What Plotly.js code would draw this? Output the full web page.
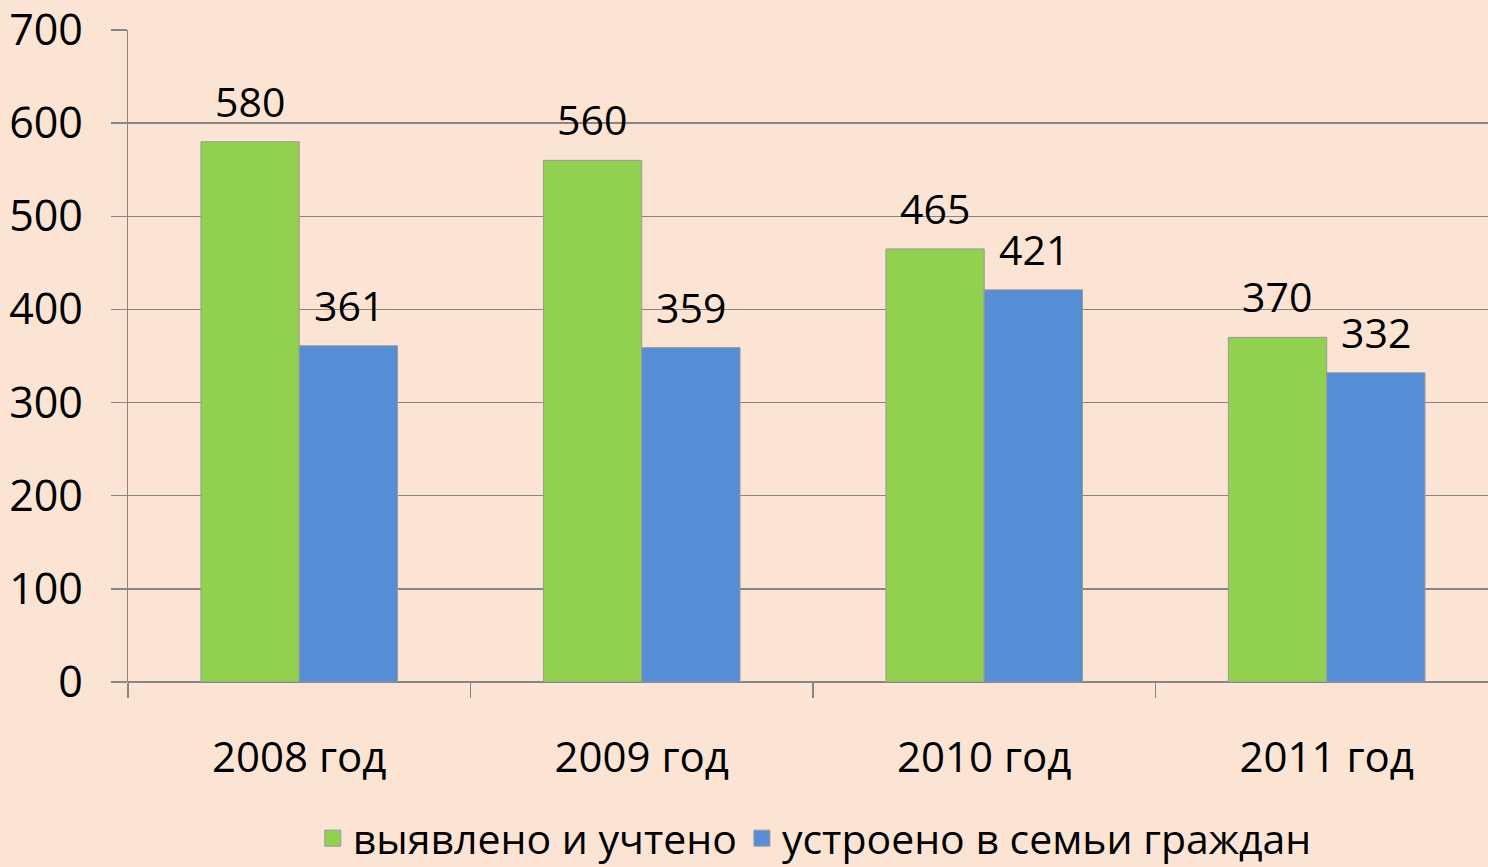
<!DOCTYPE html>
<html>
<head>
<meta charset="utf-8">
<script src="https://cdn.plot.ly/plotly-3.0.1.min.js"></script>
<style>html,body{margin:0;padding:0;background:#FCE4D5;overflow:hidden}#chart{width:1488px;height:867px}</style>
</head>
<body>
<div id="chart"></div>
<script>
var categories = ["2008 год", "2009 год", "2010 год", "2011 год"];
var seriesNames = ["выявлено и учтено", "устроено в семьи граждан"];
var identified = [580, 560, 465, 370];
var placed = [361, 359, 421, 332];
var yTicks = [0, 100, 200, 300, 400, 500, 600, 700];

var FONT = "Open Sans, Noto Sans, sans-serif";
var colors = ["#92D050", "#558ED5"];
var all = [identified, placed];

var traces = all.map(function (vals, i) {
  return {
    type: "bar",
    name: seriesNames[i],
    x: categories,
    y: vals,
    showlegend: false,
    marker: { color: colors[i], line: { color: "#9A9A9A", width: 1 } },
    hoverinfo: "x+y"
  };
});
// legend entries (larger square swatches, like the original)
all.forEach(function (vals, i) {
  traces.push({
    type: "scatter", mode: "markers", name: seriesNames[i],
    x: [null], y: [null], showlegend: true,
    marker: { symbol: "square", size: 16, color: colors[i], line: { color: "#9A9A9A", width: 1 } }
  });
});

var annotations = [];
all.forEach(function (vals, i) {
  vals.forEach(function (v, j) {
    annotations.push({
      x: categories[j], y: v, xref: "x", yref: "y",
      text: String(v), showarrow: false,
      xshift: (i === 0 ? -1 : 1) * 49.5,
      yshift: 41, yanchor: "middle",
      font: { family: FONT, size: 41, color: "#000" }
    });
  });
});

var layout = {
  width: 1488, height: 867,
  paper_bgcolor: "#FCE4D5", plot_bgcolor: "#FCE4D5",
  margin: { l: 128, r: 0, t: 30, b: 185, autoexpand: false },
  barmode: "group", bargap: 0.426, bargroupgap: 0,
  showlegend: true,
  legend: {
    orientation: "h", x: 0.505, xanchor: "center", y: -0.24, yanchor: "middle",
    itemsizing: "trace",
    font: { family: FONT, size: 41, color: "#000" }, bgcolor: "rgba(0,0,0,0)"
  },
  xaxis: {
    type: "category", range: [-0.5, 3.471],
    showline: false, showgrid: false, zeroline: false,
    ticks: "outside", ticklen: 15, tickcolor: "#868686", tickwidth: 1.5,
    tickson: "boundaries", ticklabelstandoff: 47, ticklabeloverflow: "allow",
    tickfont: { family: FONT, size: 42, color: "#000" }
  },
  yaxis: {
    range: [0, 700], tickvals: yTicks,
    showline: true, linecolor: "#868686", linewidth: 1.5,
    showgrid: true, gridcolor: "#868686", gridwidth: 1.5,
    zeroline: true, zerolinecolor: "#868686", zerolinewidth: 1.5,
    ticks: "outside", ticklen: 16, tickcolor: "#868686", tickwidth: 1.5,
    ticklabelstandoff: 19, ticklabeloverflow: "allow",
    tickfont: { family: FONT, size: 43, color: "#000" }
  },
  annotations: annotations
};

Plotly.newPlot("chart", traces, layout, { staticPlot: true, displayModeBar: false });
</script>
</body>
</html>
